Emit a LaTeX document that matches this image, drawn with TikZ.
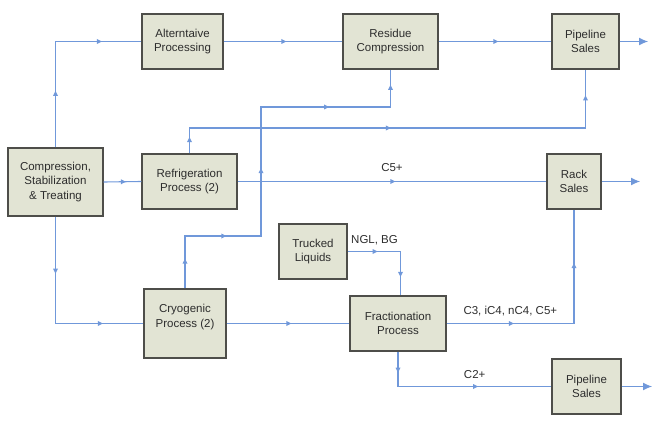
\documentclass[tikz,border=0pt]{standalone}
\usepackage{fontspec}
\setmainfont{Liberation Sans}
\usetikzlibrary{arrows.meta}
\usetikzlibrary{shapes.geometric}
\usetikzlibrary{positioning}
\usetikzlibrary{decorations.pathreplacing}
\definecolor{flowc}{RGB}{112,152,218}
\definecolor{boxfill}{RGB}{226,228,212}
\definecolor{boxline}{RGB}{78,78,74}
\definecolor{txt}{RGB}{45,45,45}
\begin{document}
\begin{tikzpicture}[x=1pt,y=-1pt,
	unit/.style={draw=boxline, line width=1.3pt, fill=boxfill, align=center,
		inner sep=0pt, text=txt, font=\fontsize{11.5}{14.5}\selectfont},
	midtip/.style={isosceles triangle, isosceles triangle stretches, fill=flowc,
		draw=none, inner sep=0pt, minimum height=5pt, minimum width=5pt,
		sloped, allow upside down},
	flow/.style={draw=flowc, line width=1.1pt, postaction={decorate,
		decoration={show path construction, lineto code={
		\path (\tikzinputsegmentfirst) -- (\tikzinputsegmentlast) node[midtip, pos=0.5] {};}}}},
	outflow/.style={draw=flowc, line width=1.1pt, -{Latex[length=9pt,width=8pt]}},
	lbl/.style={text=txt, font=\fontsize{11.5}{14}\selectfont, inner sep=1pt}]
	\useasboundingbox (0,0) rectangle (658,425);

	\node[unit, minimum width=95pt, minimum height=68pt] (comp) at (55.5,182) {Compression,\\Stabilization\\\& Treating};
	\node[unit, minimum width=81pt, minimum height=55pt] (alt) at (182.5,41.5) {Alterntaive\\Processing};
	\node[unit, minimum width=95pt, minimum height=55pt] (res) at (390.5,41.5) {Residue\\Compression};
	\node[unit, minimum width=67pt, minimum height=55pt] (pipe1) at (585.5,41.5) {Pipeline\\Sales};
	\node[unit, minimum width=95pt, minimum height=55pt] (refr) at (189.5,181.5) {Refrigeration\\Process (2)};
	\node[unit, minimum width=54pt, minimum height=55pt] (rack) at (574,181.5) {Rack\\Sales};
	\node[unit, minimum width=68pt, minimum height=55pt] (truck) at (313,251.5) {Trucked\\Liquids};
	\node[unit, minimum width=82pt, minimum height=69pt, text depth=15pt] (cryo) at (185,323.5) {Cryogenic\\Process (2)};
	\node[unit, minimum width=96pt, minimum height=55pt] (frac) at (398,323.5) {Fractionation\\Process};
	\node[unit, minimum width=69pt, minimum height=55pt] (pipe2) at (586.5,386.5) {Pipeline\\Sales};

	\coordinate (r1) at (189.5,128);
	\coordinate (c1) at (261,236);
	\coordinate (c2) at (261,107);
	\coordinate (o1) at (648,41.5);
	\coordinate (o2) at (640,181.5);
	\coordinate (o3) at (652,386.5);

	% main streams
	\draw[flow] (comp.north) |- (alt.west);
	\draw[flow] (alt.east) -- (res.west);
	\draw[flow] (res.east) -- (pipe1.west);
	\draw[flow] (comp.east) -- (refr.west);
	\draw[flow] (refr.east) -- node[lbl, above=8pt] {C5+} (rack.west);
	\draw[flow] (comp.south) |- (cryo.west);
	\draw[flow] (cryo.east) -- (frac.west);

	% side streams
	\draw[flow] (refr.north) -- (r1) -| (pipe1.south);
	\draw[flow] (cryo.north) |- (c1) -- (c2) -| (res.south);
	\draw[flow] (truck.east) node[lbl, above right=5pt and 2pt] {NGL, BG} -| ([xshift=2.5pt]frac.north);
	\draw[flow] (frac.east) -| node[lbl, pos=0.25, above=6pt] {C3, iC4, nC4, C5+} (rack.south);
	\draw[flow] (frac.south) |- node[lbl, pos=0.75, above=6pt] {C2+} (pipe2.west);

	% sales
	\draw[outflow] (pipe1.east) -- (o1);
	\draw[outflow] (rack.east) -- (o2);
	\draw[outflow] (pipe2.east) -- (o3);
\end{tikzpicture}
\end{document}
